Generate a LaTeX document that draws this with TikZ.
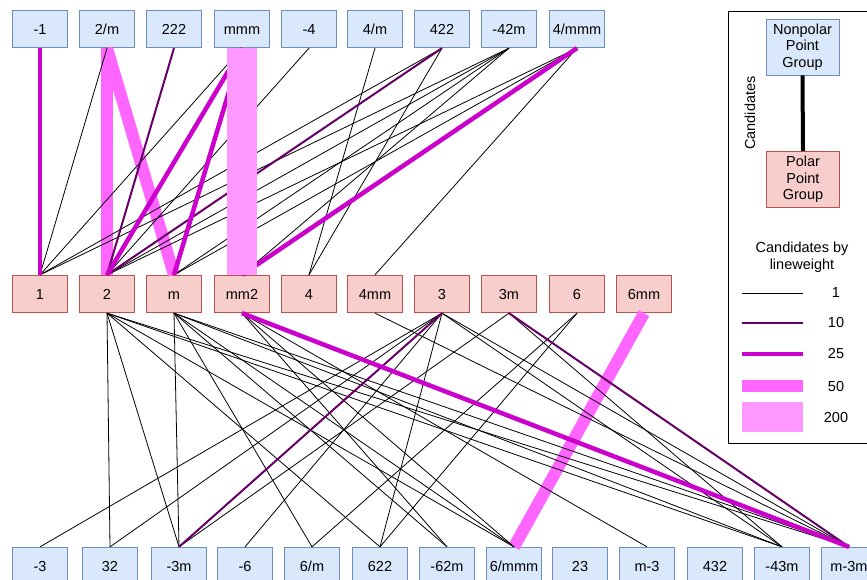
\documentclass[tikz,border=0pt]{standalone}
\usepackage{fontspec}
\setmainfont{Liberation Sans}
\definecolor{npf}{HTML}{DAE8FC}
\definecolor{npb}{HTML}{6C8EBF}
\definecolor{ppf}{HTML}{F8CECC}
\definecolor{ppb}{HTML}{B85450}
\definecolor{cten}{HTML}{660066}
\definecolor{ctwf}{HTML}{CC00CC}
\definecolor{cfif}{HTML}{FF66FF}
\definecolor{ctwo}{HTML}{FF99FF}
\begin{document}
\begin{tikzpicture}[x=1pt,y=-1pt,
  box/.style={minimum width=55.5pt,minimum height=37.5pt,inner sep=0pt,font=\fontsize{14.5}{16.7}\selectfont,line width=0.8pt},
  onel/.style={text height=10.4pt,text depth=0pt},
  np/.style={box,draw=npb,fill=npf},
  pp/.style={box,draw=ppb,fill=ppf},
  wone/.style={draw=black,line width=0.8pt},
  wten/.style={draw=cten,line width=2pt},
  wtwf/.style={draw=ctwf,line width=4.5pt},
  wfif/.style={draw=cfif,line width=12pt},
  wtwo/.style={draw=ctwo,line width=30pt},
  lbl/.style={font=\fontsize{14.5}{16.7}\selectfont,inner sep=0pt,align=center}]
\useasboundingbox (0,0) rectangle (867,579);
% top row
\foreach \n/\x/\t in {t1/40/-1,t2/107/2\slash m,t3/174/222,t4/242/mmm,t5/309/-4,t6/375/4\slash m,t7/442/422,t8/509/-42m,t9/577/4\slash mmm}
  \node[np,onel] (\n) at (\x,29) {\t};
% middle row
\foreach \n/\x/\t in {m1/40/1,m2/107/2,m3/174/m,m4/242/mm2,m5/309/4,m6/375/4mm,m7/442/3,m8/509/3m,m9/577/6,m10/644/6mm}
  \node[pp,onel] (\n) at (\x,294) {\t};
% bottom row
\foreach \n/\x/\t in {b1/40/-3,b2/110/32,b3/179/-3m,b4/245/-6,b5/312/6\slash m,b6/380/622,b7/447/-62m,b8/514/6\slash mmm,b9/580/23,b10/647/m-3,b11/715/432,b12/782/-43m,b13/849/m-3m}
  \node[np,onel] (\n) at (\x,566) {\t};
% connectors, widest 50 first
\foreach \a/\b in {t2/m2,t2/m3,m10/b8}
  \draw[wfif] (\a.south) -- (\b.north);
\foreach \a/\b in {t2/m1,t4/m1,t5/m2,t6/m5,t7/m1,t7/m5,t8/m1,t8/m2,t8/m3,t8/m4,t9/m2,t9/m3,t9/m6,
  m7/b1,m2/b2,m7/b2,m2/b3,m3/b3,m8/b3,m7/b4,m3/b5,m9/b5,m2/b6,m7/b6,m9/b6,
  m4/b7,m3/b7,m2/b8,m3/b8,m4/b8,m4/b10,
  m2/b12,m3/b12,m7/b12,m8/b12,m2/b13,m3/b13,m6/b13,m7/b13}
  \draw[wone] (\a.south) -- (\b.north);
\foreach \a/\b in {t3/m2,t7/m2,m7/b3,m8/b13}
  \draw[wten] (\a.south) -- (\b.north);
\foreach \a/\b in {t1/m1,t4/m2,t4/m3,t9/m4,m4/b13}
  \draw[wtwf] (\a.south) -- (\b.north);
\draw[wtwo] (t4.south) -- (m4.north);
% legend
\draw[line width=1pt] (728,11) rectangle (872,443);
\node[np,minimum width=73pt,minimum height=56pt,align=center] (lnp) at (802.5,47) {Nonpolar\\Point\\Group};
\node[pp,minimum width=73pt,minimum height=56pt,align=center] (lpp) at (803,179.5) {Polar\\Point\\Group};
\draw[line width=4pt] (lnp.south) -- (lpp.north);
\node[lbl,rotate=90] (lcand) at (750,113) {Candidates};
\node[lbl] (lby) at (802,257) {Candidates by\\lineweight};
\coordinate (la1) at (742,293); \coordinate (lb1) at (803,293);
\coordinate (la2) at (742,323); \coordinate (lb2) at (803,323);
\coordinate (la3) at (742,354); \coordinate (lb3) at (803,354);
\coordinate (la4) at (742,386); \coordinate (lb4) at (803,386);
\coordinate (la5) at (742,417); \coordinate (lb5) at (803,417);
\draw[wone] (la1) -- (lb1);
\draw[wten] (la2) -- (lb2);
\draw[wtwf] (la3) -- (lb3);
\draw[wfif] (la4) -- (lb4);
\draw[wtwo] (la5) -- (lb5);
\node[lbl] (lv1) at (836,293) {1};
\node[lbl] (lv2) at (836,323) {10};
\node[lbl] (lv3) at (836,354) {25};
\node[lbl] (lv4) at (836,386) {50};
\node[lbl] (lv5) at (836,417) {200};
\end{tikzpicture}
\end{document}
